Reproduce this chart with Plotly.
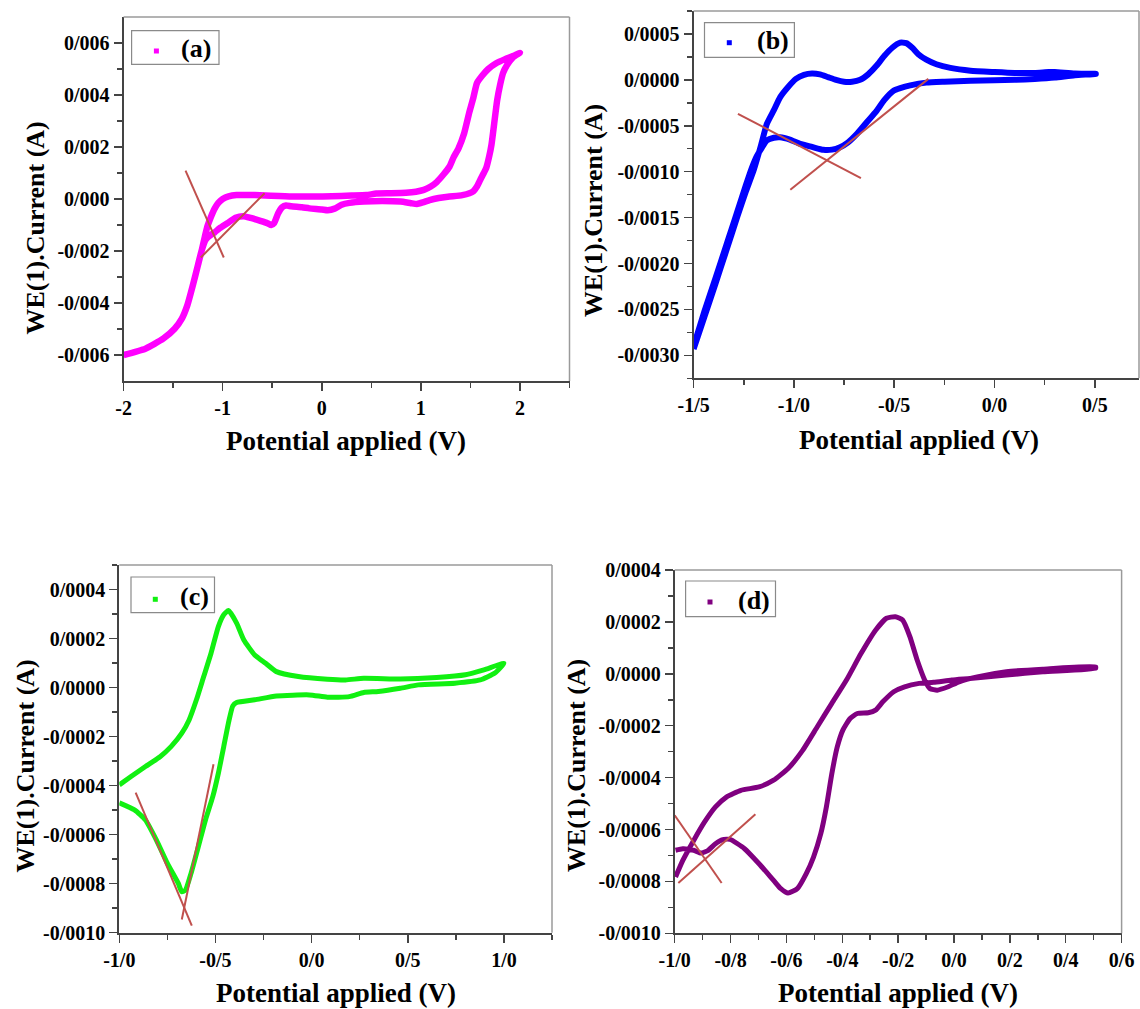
import plotly.graph_objects as go

W, H = 1140, 1009

# ---------------- data ----------------
# Panel (a)
A_X = [-2.0, -1.78, -1.6, -1.485, -1.412, -1.357, -1.30, -1.25, -1.21,
       -1.17, -1.12, -1.08, -1.03, -0.953, -0.87, -0.79, -0.717, -0.62, -0.548, -0.51, -0.48,
       -0.44, -0.40, -0.36, -0.309, -0.2, -0.125, 0.0, 0.06, 0.13, 0.2, 0.28, 0.426, 0.61,
       0.794, 0.90, 0.96, 1.02, 1.088, 1.18, 1.272, 1.419, 1.49, 1.53, 1.566, 1.60, 1.635,
       1.66, 1.69, 1.713, 1.74, 1.77, 1.80, 1.83, 1.87, 1.93, 2.0,
       1.93, 1.85, 1.76, 1.68, 1.62, 1.566, 1.53, 1.49, 1.437, 1.38, 1.33, 1.29, 1.23, 1.16,
       1.10, 1.03, 0.95, 0.85, 0.7, 0.55, 0.45, 0.3, 0.1, -0.3, -0.676, -0.86, -0.94, -1.0,
       -1.044, -1.08, -1.12, -1.154, -1.18, -1.21,
       -1.25, -1.30, -1.357, -1.412, -1.485, -1.6, -1.78, -2.0]
A_Y = [-6.0e-3, -5.76e-3, -5.37e-3, -4.99e-3, -4.60e-3, -4.09e-3, -3.30e-3, -2.55e-3, -1.95e-3,
       -1.55e-3, -1.38e-3, -1.28e-3, -1.12e-3, -0.93e-3, -0.72e-3, -0.66e-3, -0.73e-3, -0.84e-3,
       -0.93e-3, -1.0e-3, -0.92e-3, -0.55e-3, -0.32e-3, -0.25e-3, -0.28e-3, -0.32e-3, -0.36e-3,
       -0.40e-3, -0.43e-3, -0.37e-3, -0.22e-3, -0.15e-3, -0.10e-3, -0.08e-3, -0.10e-3, -0.16e-3,
       -0.19e-3, -0.13e-3, -0.04e-3, 0.04e-3, 0.09e-3, 0.15e-3, 0.22e-3, 0.30e-3, 0.48e-3,
       0.74e-3, 1.0e-3, 1.2e-3, 1.65e-3, 2.1e-3, 2.9e-3, 3.8e-3, 4.4e-3, 4.85e-3, 5.15e-3,
       5.45e-3, 5.62e-3,
       5.50e-3, 5.38e-3, 5.22e-3, 5.0e-3, 4.75e-3, 4.46e-3, 3.9e-3, 3.35e-3, 2.53e-3, 1.95e-3,
       1.6e-3, 1.25e-3, 0.95e-3, 0.65e-3, 0.48e-3, 0.35e-3, 0.28e-3, 0.24e-3, 0.22e-3, 0.21e-3,
       0.15e-3, 0.13e-3, 0.11e-3, 0.10e-3, 0.15e-3, 0.15e-3, 0.10e-3, 0.0, -0.15e-3, -0.36e-3,
       -0.70e-3, -1.05e-3, -1.45e-3, -1.95e-3,
       -2.55e-3, -3.30e-3, -4.09e-3, -4.60e-3, -4.99e-3, -5.37e-3, -5.76e-3, -6.0e-3]
A_T1_X = [-1.375, -0.989]
A_T1_Y = [1.09e-3, -2.25e-3]
A_T2_X = [-1.221, -0.577]
A_T2_Y = [-2.25e-3, 0.22e-3]

# Panel (b)
B_X = [-1.5, -1.446, -1.391, -1.337, -1.282, -1.24, -1.20,
       -1.165, -1.135, -1.10, -1.069, -1.03, -0.99, -0.95, -0.91, -0.87, -0.83, -0.79, -0.75,
       -0.71, -0.67, -0.63, -0.59, -0.55, -0.51, -0.47, -0.44, -0.41, -0.38, -0.34, -0.29,
       -0.22, -0.12, 0.0, 0.1, 0.2, 0.27, 0.30, 0.40, 0.505,
       0.40, 0.30, 0.2, 0.1, 0.0, -0.12, -0.25, -0.34, -0.42, -0.47, -0.505, -0.55, -0.587,
       -0.64, -0.686, -0.73, -0.77, -0.81, -0.853, -0.91, -0.969, -1.02, -1.069, -1.10, -1.135,
       -1.16, -1.185, -1.21, -1.24, -1.28, -1.31, -1.337, -1.391, -1.446, -1.5]
B_Y = [-2.93e-3, -2.58e-3, -2.22e-3, -1.86e-3, -1.49e-3, -1.22e-3, -0.98e-3,
       -0.72e-3, -0.48e-3, -0.33e-3, -0.19e-3, -0.08e-3, 0.01e-3, 0.055e-3, 0.07e-3, 0.06e-3,
       0.03e-3, 0.0, -0.02e-3, -0.02e-3, 0.0, 0.06e-3, 0.15e-3, 0.26e-3, 0.35e-3, 0.405e-3,
       0.40e-3, 0.35e-3, 0.28e-3, 0.22e-3, 0.17e-3, 0.13e-3, 0.10e-3, 0.085e-3, 0.075e-3,
       0.075e-3, 0.085e-3, 0.085e-3, 0.07e-3, 0.065e-3,
       0.05e-3, 0.025e-3, 0.01e-3, 0.0, -0.005e-3, -0.01e-3, -0.02e-3, -0.03e-3, -0.06e-3,
       -0.09e-3, -0.12e-3, -0.22e-3, -0.334e-3, -0.47e-3, -0.588e-3, -0.68e-3, -0.733e-3,
       -0.76e-3, -0.762e-3, -0.73e-3, -0.696e-3, -0.65e-3, -0.625e-3, -0.63e-3, -0.66e-3,
       -0.74e-3, -0.83e-3, -0.96e-3, -1.15e-3, -1.42e-3, -1.62e-3, -1.80e-3, -2.16e-3,
       -2.52e-3, -2.90e-3]
B_T1_X = [-1.279, -0.666]
B_T1_Y = [-0.37e-3, -1.07e-3]
B_T2_X = [-1.018, -0.330]
B_T2_Y = [-1.197e-3, 0.011e-3]

# Panel (c)
C_X = [-1.0, -0.939, -0.864, -0.788, -0.731, -0.675, -0.637, -0.599, -0.561, -0.523, -0.485,
       -0.457, -0.432, -0.39, -0.353, -0.296, -0.239, -0.183, -0.069, 0.082, 0.177, 0.271,
       0.461, 0.65, 0.80, 0.896, 1.0,
       0.953, 0.877, 0.745, 0.555, 0.461, 0.347, 0.271, 0.196, 0.082, -0.012, -0.183, -0.296,
       -0.39, -0.41, -0.429, -0.457, -0.485, -0.514, -0.552, -0.589, -0.627, -0.656, -0.675,
       -0.693, -0.750, -0.807, -0.864, -0.921, -1.0]
C_Y = [-3.97e-4, -3.63e-4, -3.22e-4, -2.82e-4, -2.41e-4, -1.86e-4, -1.32e-4, -0.50e-4,
       0.45e-4, 1.40e-4, 2.49e-4, 2.97e-4, 3.14e-4, 2.63e-4, 1.95e-4, 1.33e-4, 0.99e-4,
       0.65e-4, 0.45e-4, 0.34e-4, 0.31e-4, 0.38e-4, 0.35e-4, 0.41e-4, 0.52e-4, 0.72e-4, 0.99e-4,
       0.59e-4, 0.31e-4, 0.18e-4, 0.11e-4, -0.03e-4, -0.16e-4, -0.20e-4, -0.37e-4, -0.39e-4,
       -0.30e-4, -0.34e-4, -0.50e-4, -0.61e-4, -0.75e-4, -1.32e-4, -2.41e-4, -3.50e-4,
       -4.45e-4, -5.40e-4, -6.49e-4, -7.58e-4, -8.26e-4, -8.33e-4, -7.99e-4, -7.17e-4,
       -6.22e-4, -5.40e-4, -4.99e-4, -4.70e-4]
C_T1_X = [-0.915, -0.623]
C_T1_Y = [-4.29e-4, -9.71e-4]
C_T2_X = [-0.675, -0.51]
C_T2_Y = [-9.46e-4, -3.13e-4]

# Panel (d)
D_X = [-0.997, -0.971, -0.932, -0.893, -0.854, -0.815, -0.763, -0.698, -0.646, -0.594, -0.542,
       -0.490, -0.4375, -0.385, -0.333, -0.281, -0.242, -0.21, -0.184, -0.158, -0.132, -0.105,
       -0.086, -0.06, -0.021, 0.018, 0.083, 0.1875, 0.318, 0.507,
       0.507, 0.318, 0.1875, 0.057, -0.008, -0.073, -0.125, -0.177, -0.216, -0.255, -0.281,
       -0.307, -0.346, -0.372, -0.398, -0.418, -0.4375, -0.457, -0.477, -0.503, -0.529, -0.561,
       -0.594, -0.62, -0.646, -0.698, -0.75, -0.802, -0.828, -0.854, -0.88, -0.906, -0.932,
       -0.971, -0.997]
D_Y = [-7.83e-4, -7.19e-4, -6.42e-4, -5.71e-4, -5.13e-4, -4.75e-4, -4.49e-4, -4.36e-4,
       -4.10e-4, -3.65e-4, -2.95e-4, -2.05e-4, -1.14e-4, -0.24e-4, 0.78e-4, 1.68e-4, 2.14e-4,
       2.20e-4, 2.07e-4, 1.43e-4, 0.53e-4, -0.24e-4, -0.57e-4, -0.63e-4, -0.50e-4, -0.31e-4,
       -0.12e-4, 0.08e-4, 0.18e-4, 0.27e-4,
       0.21e-4, 0.08e-4, -0.05e-4, -0.18e-4, -0.24e-4, -0.33e-4, -0.37e-4, -0.50e-4, -0.69e-4,
       -1.08e-4, -1.40e-4, -1.50e-4, -1.53e-4, -1.72e-4, -2.17e-4, -2.82e-4, -3.85e-4,
       -5.13e-4, -6.16e-4, -7.06e-4, -7.70e-4, -8.28e-4, -8.45e-4, -8.28e-4, -7.96e-4,
       -7.32e-4, -6.74e-4, -6.38e-4, -6.39e-4, -6.55e-4, -6.80e-4, -6.91e-4, -6.80e-4,
       -6.74e-4, -6.80e-4]
D_T1_X = [-1.0, -0.832]
D_T1_Y = [-5.45e-4, -8.06e-4]
D_T2_X = [-0.987, -0.711]
D_T2_Y = [-8.06e-4, -5.41e-4]

# Tick labels
A_XTICKS = [-2, -1, 0, 1, 2]
A_XTEXT = ["-2", "-1", "0", "1", "2"]
A_XMINOR = [-1.5, -0.5, 0.5, 1.5, 2.5]
A_YTICKS = [-0.006, -0.004, -0.002, 0.0, 0.002, 0.004, 0.006]
A_YTEXT = ["-0/006", "-0/004", "-0/002", "0/000", "0/002", "0/004", "0/006"]
A_YMINOR = [-0.005, -0.003, -0.001, 0.001, 0.003, 0.005]

B_XTICKS = [-1.5, -1.0, -0.5, 0.0, 0.5]
B_XTEXT = ["-1/5", "-1/0", "-0/5", "0/0", "0/5"]
B_XMINOR = [-1.25, -0.75, -0.25, 0.25]
B_YTICKS = [-0.003, -0.0025, -0.002, -0.0015, -0.001, -0.0005, 0.0, 0.0005]
B_YTEXT = ["-0/0030", "-0/0025", "-0/0020", "-0/0015", "-0/0010", "-0/0005", "0/0000", "0/0005"]
B_YMINOR = [-0.00325, -0.00275, -0.00225, -0.00175, -0.00125, -0.00075, -0.00025, 0.00025, 0.00075]

C_XTICKS = [-1.0, -0.5, 0.0, 0.5, 1.0]
C_XTEXT = ["-1/0", "-0/5", "0/0", "0/5", "1/0"]
C_XMINOR = [-0.75, -0.25, 0.25, 0.75, 1.25]
C_YTICKS = [-0.001, -0.0008, -0.0006, -0.0004, -0.0002, 0.0, 0.0002, 0.0004]
C_YTEXT = ["-0/0010", "-0/0008", "-0/0006", "-0/0004", "-0/0002", "0/0000", "0/0002", "0/0004"]
C_YMINOR = [-0.0009, -0.0007, -0.0005, -0.0003, -0.0001, 0.0001, 0.0003, 0.0005]

D_XTICKS = [-1.0, -0.8, -0.6, -0.4, -0.2, 0.0, 0.2, 0.4, 0.6]
D_XTEXT = ["-1/0", "-0/8", "-0/6", "-0/4", "-0/2", "0/0", "0/2", "0/4", "0/6"]
D_XMINOR = [-0.9, -0.7, -0.5, -0.3, -0.1, 0.1, 0.3, 0.5]
D_YTICKS = [-0.001, -0.0008, -0.0006, -0.0004, -0.0002, 0.0, 0.0002, 0.0004]
D_YTEXT = ["-0/0010", "-0/0008", "-0/0006", "-0/0004", "-0/0002", "0/0000", "0/0002", "0/0004"]
D_YMINOR = [-0.0009, -0.0007, -0.0005, -0.0003, -0.0001, 0.0001, 0.0003]

LABELS = ["(a)", "(b)", "(c)", "(d)"]
COLORS = ["#FF00FF", "#0000FF", "#11F011", "#800080"]
YTITLE = "WE(1).Current (A)"
XTITLE = "Potential applied (V)"
TAN_COLOR = "#C0504D"
FONT = "Liberation Serif"

# ---------------- layout geometry (pixels) ----------------
BOXES = [(123.6, 569.5, 17, 381), (693.6, 1139, 11, 378.3),
         (119.3, 552, 565, 932.7), (674.7, 1121.6, 570, 933.3)]
XRANGES = [[-2, 2.5], [-1.5, 0.72], [-1.0, 1.25], [-1.0, 0.6]]
YRANGES = [[-0.007, 0.007], [-0.00325, 0.00075], [-0.001, 0.0005], [-0.001, 0.0004]]
YTITLE_POS = [(35.5, 228), (593, 211), (24.5, 766), (576, 766)]
XTITLE_POS = [(346, 441), (919, 440), (336, 993), (898, 993)]
# legend boxes (left, right, top, bottom), marker centre, label centre
LEG_BOX = [(131.6, 219, 30.7, 64.3), (704.5, 794.4, 22.7, 57.3),
           (131, 214.5, 577, 612.7), (685.6, 775.5, 581, 616.7)]
LEG_MARK = [(156.4, 51), (729.3, 42.7), (155.3, 599.3), (710, 602)]
LEG_TEXT = [(196, 48.5), (772.5, 40.5), (194.5, 596.5), (753.6, 600)]
LINE_W = [6.5, 6, 5, 5]

series = [
    (A_X, A_Y, [(A_T1_X, A_T1_Y), (A_T2_X, A_T2_Y)]),
    (B_X, B_Y, [(B_T1_X, B_T1_Y), (B_T2_X, B_T2_Y)]),
    (C_X, C_Y, [(C_T1_X, C_T1_Y), (C_T2_X, C_T2_Y)]),
    (D_X, D_Y, [(D_T1_X, D_T1_Y), (D_T2_X, D_T2_Y)]),
]
ticks = [
    (A_XTICKS, A_XTEXT, A_XMINOR, A_YTICKS, A_YTEXT, A_YMINOR),
    (B_XTICKS, B_XTEXT, B_XMINOR, B_YTICKS, B_YTEXT, B_YMINOR),
    (C_XTICKS, C_XTEXT, C_XMINOR, C_YTICKS, C_YTEXT, C_YMINOR),
    (D_XTICKS, D_XTEXT, D_XMINOR, D_YTICKS, D_YTEXT, D_YMINOR),
]

fig = go.Figure()
layout = dict(width=W, height=H,
              margin=dict(l=0, r=0, t=0, b=0, pad=0, autoexpand=False),
              paper_bgcolor="white", plot_bgcolor="white", showlegend=False)
shapes = []
annotations = []

tickfont = dict(family=FONT, size=20, color="black", weight="bold")
ytfont = dict(family=FONT, size=26, color="black", weight="bold")
xtfont = dict(family=FONT, size=27, color="black", weight="bold")
legfont = dict(family=FONT, size=26, color="black", weight="bold")


def px_x(v):
    return v / W


def px_y(v):
    return 1 - v / H


for i in range(4):
    n = "" if i == 0 else str(i + 1)
    xa, ya = "x" + n, "y" + n
    l, r, t, b = BOXES[i]
    xt, xtt, xm, yt, ytt, ym = ticks[i]
    common = dict(showgrid=False, zeroline=False, showline=True, linecolor="#444",
                  linewidth=2, ticks="outside", ticklen=8, tickwidth=1.5, tickcolor="#444",
                  tickfont=tickfont, tickmode="array", automargin=False)
    layout["xaxis" + n] = dict(domain=[px_x(l), px_x(r)], range=XRANGES[i], anchor=ya,
                               tickvals=xt, ticktext=xtt,
                               minor=dict(tickmode="array", tickvals=xm, ticks="outside",
                                          ticklen=5, tickwidth=1.5, tickcolor="#444"),
                               **common)
    layout["yaxis" + n] = dict(domain=[px_y(b), px_y(t)], range=YRANGES[i], anchor=xa,
                               tickvals=yt, ticktext=ytt,
                               minor=dict(tickmode="array", tickvals=ym, ticks="outside",
                                          ticklen=5, tickwidth=1.5, tickcolor="#444"),
                               **common)
    # top / right frame lines (lighter, as in the reference)
    shapes.append(dict(type="line", xref=xa + " domain", yref=ya + " domain",
                       x0=0, x1=1, y0=1, y1=1, line=dict(color="#9a9a9a", width=1.5)))
    shapes.append(dict(type="line", xref=xa + " domain", yref=ya + " domain",
                       x0=1, x1=1, y0=0, y1=1, line=dict(color="#9a9a9a", width=1.5)))

    X, Y, tans = series[i]
    fig.add_trace(go.Scatter(x=X, y=Y, xaxis=xa, yaxis=ya, mode="lines", name=LABELS[i],
                             line=dict(color=COLORS[i], width=LINE_W[i], shape="spline",
                                       smoothing=0.5),
                             hoverinfo="skip"))
    for tx, ty in tans:
        fig.add_trace(go.Scatter(x=tx, y=ty, xaxis=xa, yaxis=ya, mode="lines",
                                 line=dict(color=TAN_COLOR, width=2), hoverinfo="skip"))

    # legend box
    bl, br, bt, bb = LEG_BOX[i]
    shapes.append(dict(type="rect", xref="paper", yref="paper",
                       x0=px_x(bl), x1=px_x(br), y0=px_y(bb), y1=px_y(bt),
                       line=dict(color="#8a8a8a", width=1.2), fillcolor="white"))
    mx, my = LEG_MARK[i]
    shapes.append(dict(type="rect", xref="paper", yref="paper",
                       x0=px_x(mx - 2.5), x1=px_x(mx + 2.5), y0=px_y(my + 2.5), y1=px_y(my - 2.5),
                       line=dict(width=0), fillcolor=COLORS[i]))
    tx_, ty_ = LEG_TEXT[i]
    annotations.append(dict(text=LABELS[i], x=px_x(tx_), y=px_y(ty_), xref="paper",
                            yref="paper", showarrow=False, font=legfont,
                            xanchor="center", yanchor="middle"))

    yx, yy = YTITLE_POS[i]
    annotations.append(dict(text=YTITLE, x=px_x(yx), y=px_y(yy), xref="paper", yref="paper",
                            textangle=-90, showarrow=False, font=ytfont,
                            xanchor="center", yanchor="middle"))
    xx, xy = XTITLE_POS[i]
    annotations.append(dict(text=XTITLE, x=px_x(xx), y=px_y(xy), xref="paper", yref="paper",
                            showarrow=False, font=xtfont,
                            xanchor="center", yanchor="middle"))

layout["shapes"] = shapes
layout["annotations"] = annotations
fig.update_layout(**layout)
fig.write_html("out.html",
               config={"displayModeBar": False, "staticPlot": True},
               post_script="document.body.style.margin='0px';"
                           "document.body.style.overflow='hidden';")
